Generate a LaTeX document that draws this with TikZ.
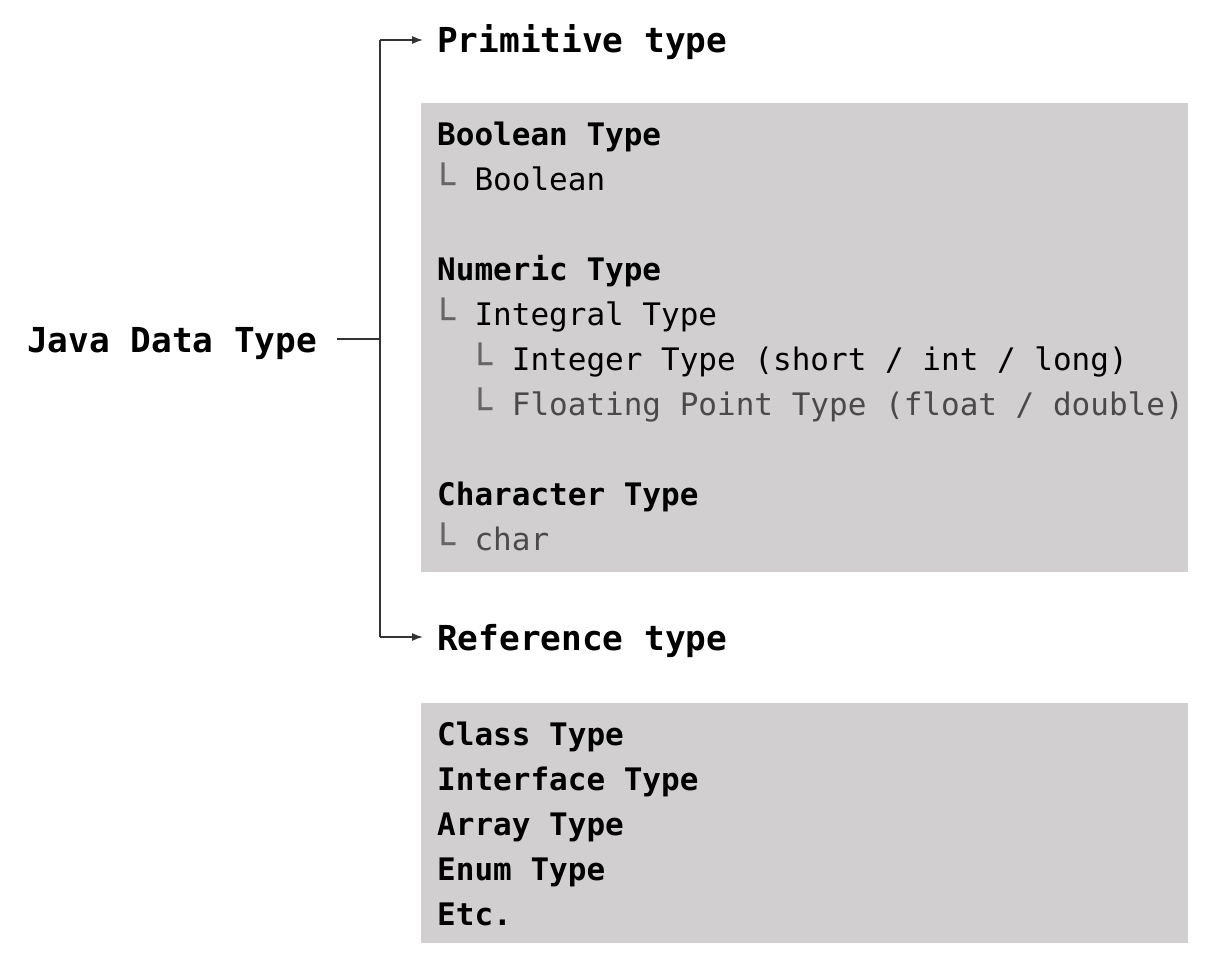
\documentclass[tikz,border=0pt]{standalone}
\usepackage{fontspec}
\usepackage{graphicx}
\newfontfamily\monofnt{DejaVu Sans Mono}
\usetikzlibrary{arrows.meta}
\definecolor{boxgray}{HTML}{D1CFD0}
\definecolor{subgray}{HTML}{4A4A4A}
\definecolor{markgray}{HTML}{666666}
\definecolor{linegray}{HTML}{333333}
\newcommand\lmark{\makebox[37.33pt][l]{\hspace*{-6pt}\raisebox{-6pt}{\textcolor{markgray}{\scalebox{1.25}[1.12]{\fontsize{32}{32}\selectfont └}}}}}
\begin{document}
\begin{tikzpicture}[x=1pt,y=-1pt,
  head/.style={anchor=base west, inner sep=0pt, font=\monofnt\bfseries\fontsize{34.4}{40}\selectfont},
  cat/.style={anchor=base west, inner sep=0pt, font=\monofnt\bfseries\fontsize{31}{45}\selectfont},
  item/.style={anchor=base west, inner sep=0pt, font=\monofnt\fontsize{31}{45}\selectfont},
  dim/.style={text=subgray},
  conn/.style={draw=linegray, line width=1.4pt},
  arr/.style={conn, -{Latex[length=11pt,width=8pt]}, shorten >=14pt},
  panel/.style={fill=boxgray, draw=none}]
\useasboundingbox (0,0) rectangle (1210,959);
% panels
\path[panel] (421,103) rectangle (1188,572);
\path[panel] (421,703) rectangle (1188,943);
% headings
\node[head] (java) at (27,352) {Java Data Type};
\node[head] (prim) at (437,52) {Primitive type};
\node[head] (ref) at (437,650) {Reference type};
% primitive panel
\node[cat]  (bt)  at (437,145) {Boolean Type};
\node[item] (b)   at (437,190) {\lmark Boolean};
\node[cat]  (nt)  at (437,280) {Numeric Type};
\node[item] (it)  at (437,325) {\lmark Integral Type};
\node[item] (int) at (437,370) {\hspace*{37.33pt}\lmark Integer Type (short / int / long)};
\node[item,dim] (fp) at (437,415) {\hspace*{37.33pt}\lmark Floating Point Type (float / double)};
\node[cat]  (ct)  at (437,505) {Character Type};
\node[item,dim] (ch) at (437,550) {\lmark char};
% reference panel
\node[cat] (cls) at (437,745) {Class Type};
\node[cat] (ifc) at (437,790) {Interface Type};
\node[cat] (arr) at (437,835) {Array Type};
\node[cat] (enm) at (437,880) {Enum Type};
\node[cat] (etc) at (437,925) {Etc.};
% connectors
\coordinate (jm) at (380,339);
\coordinate (jt) at (380,40);
\coordinate (jb) at (380,637);
\draw[conn] ([xshift=20pt]java.east |- jm) -- (jm);
\draw[conn] (jt) -- (jb);
\draw[arr] (jt) -- (prim.west |- jt);
\draw[arr] (jb) -- (ref.west |- jb);
\end{tikzpicture}
\end{document}
